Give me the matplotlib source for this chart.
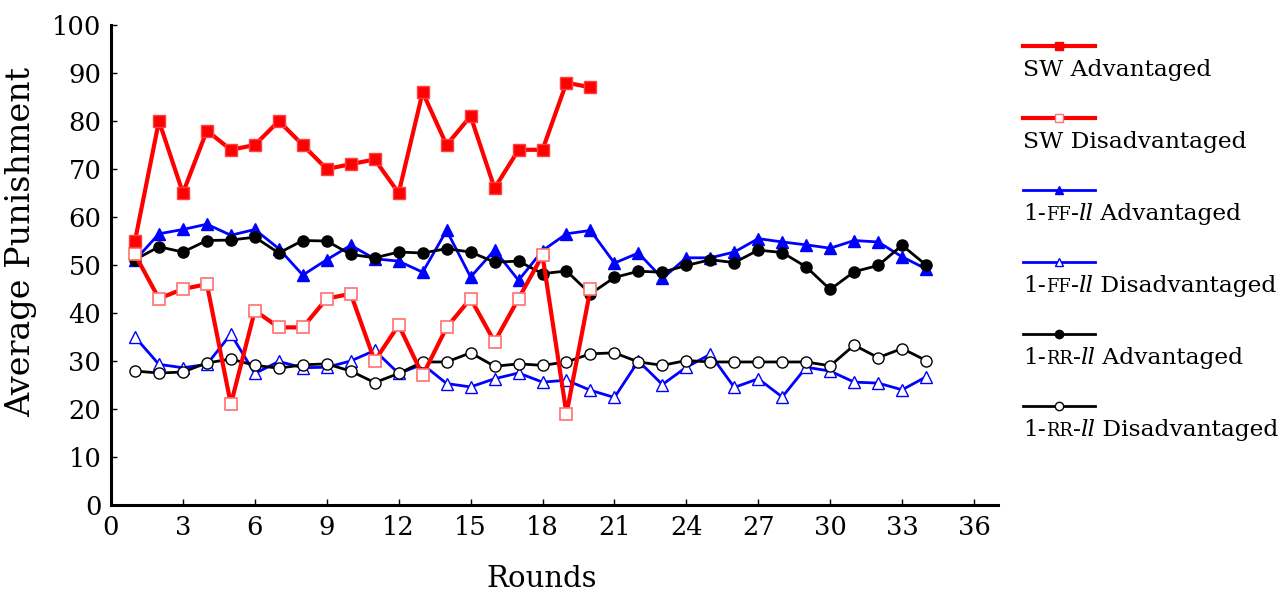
import numpy as np
import matplotlib
matplotlib.use('Agg')
import matplotlib.pyplot as plt
from matplotlib.lines import Line2D

SERIF = ['DejaVu Serif']

rounds_sw = list(range(1, 21))
rounds_ll = list(range(1, 35))

sw_adv = [55, 80, 65, 78, 74, 75, 80, 75, 70, 71, 72, 65, 86, 75, 81, 66, 74, 74, 88, 87]
sw_dis = [52.2, 43, 45, 46, 21, 40.5, 37, 37, 43, 44, 30, 37.5, 27, 37, 43, 34, 43, 52, 19, 45]
ff_adv = [51, 56.5, 57.4, 58.5, 56.2, 57.4, 53.4, 47.9, 51.1, 54.1, 51.3, 50.8, 48.5, 57.2,
          47.5, 53.1, 46.8, 53, 56.5, 57.2, 50.4, 52.5, 47.2, 51.5, 51.5, 52.7, 55.5, 54.8,
          54.2, 53.5, 55.1, 54.8, 51.7, 49.2]
ff_dis = [35, 29.3, 28.6, 29.3, 35.6, 27.4, 29.9, 28.6, 28.7, 30, 32.2, 27.4, 29.3, 25.3,
          24.6, 26.3, 27.5, 25.6, 26, 23.9, 22.4, 30, 25.1, 28.7, 31.4, 24.5, 26.3, 22.5,
          28.7, 27.9, 25.6, 25.4, 24, 26.7]
rr_adv = [51.1, 53.8, 52.7, 55.1, 55.2, 55.8, 52.5, 55.1, 55, 52.2, 51.5, 52.7, 52.5, 53.4,
          52.7, 50.6, 50.8, 48.2, 48.75, 44, 47.4, 48.7, 48.5, 49.9, 51.1, 50.5, 53.1, 52.6,
          49.6, 44.9, 48.6, 49.9, 54.1, 50]
rr_dis = [27.9, 27.5, 27.7, 29.6, 30.4, 29.1, 28.5, 29.2, 29.4, 27.9, 25.5, 27.4, 29.8, 29.8,
          31.7, 28.9, 29.4, 29.1, 29.8, 31.5, 31.7, 29.8, 29.1, 30.1, 29.8, 29.8, 29.8, 29.8,
          29.8, 29, 33.3, 30.7, 32.6, 30.1]

W, H = 1288, 593
fig = plt.figure(figsize=(W / 100, H / 100), dpi=100)
ax = fig.add_axes([111 / W, 1 - 505 / H, (998 - 111) / W, (505 - 25) / H])

# drawing order: SW on top
ax.plot(rounds_ll, ff_dis, color='blue', lw=2, marker='^', ms=8, mfc='white', mec='blue', mew=1)
ax.plot(rounds_ll, ff_adv, color='blue', lw=2, marker='^', ms=8.5, mfc='blue', mec='blue')
ax.plot(rounds_ll, rr_dis, color='black', lw=2, marker='o', ms=8, mfc='white', mec='black', mew=1)
ax.plot(rounds_ll, rr_adv, color='black', lw=2, marker='o', ms=8, mfc='black', mec='black')
ax.plot(rounds_sw, sw_dis, color='red', lw=3, marker='s', ms=8, mfc='white', mec='#ff7070', mew=1.2)
ax.plot(rounds_sw, sw_adv, color='red', lw=3, marker='s', ms=8, mfc='red', mec='#ff4040', mew=1)

ax.set_xlim(0, 37)
ax.set_ylim(0, 100)
ax.set_xticks(range(0, 37, 3))
ax.set_yticks(range(0, 101, 10))
for s in ['top', 'right']:
    ax.spines[s].set_visible(False)
for s in ['left', 'bottom']:
    ax.spines[s].set_linewidth(2.2)
ax.tick_params(direction='in', length=4, width=1, labelsize=18.5, pad=7)
for lab in ax.get_xticklabels() + ax.get_yticklabels():
    lab.set_family(SERIF)
ax.set_xlabel('Rounds', family=SERIF, fontsize=21)
ax.set_ylabel('Average Punishment', family=SERIF, fontsize=24)
ax.xaxis.set_label_coords(0.486, -0.124)
ax.yaxis.set_label_coords(-0.083, 0.548)

# legend drawn by hand: line above, rich text below
def fx(px):
    return px / W

def fy(py):
    return 1 - py / H

fig.canvas.draw()
renderer = fig.canvas.get_renderer()

def rich_text(x, y, pieces):
    for s, size, style in pieces:
        t = fig.text(fx(x), fy(y), s, fontsize=size, style=style, family=SERIF, va='baseline')
        x += t.get_window_extent(renderer).width

leg = [
    ('red', 3, 's', 'red', 'SW'),
    ('red', 3, 's', 'white', 'SW'),
    ('blue', 2, '^', 'blue', 'FF'),
    ('blue', 2, '^', 'white', 'FF'),
    ('black', 2, 'o', 'black', 'RR'),
    ('black', 2, 'o', 'white', 'RR'),
]
big, small = 16.8, 12.8
for i, (col, lw, mk, face, tag) in enumerate(leg):
    ly = 46 + i * 72
    fig.add_artist(Line2D([fx(1023), fx(1095)], [fy(ly), fy(ly)], color=col, lw=lw,
                          transform=fig.transFigure))
    edge = '#ff7070' if col == 'red' and face == 'white' else col
    fig.add_artist(Line2D([fx(1059)], [fy(ly)], marker=mk, ms=6, mfc=face, mec=edge,
                          mew=1, transform=fig.transFigure))
    state = ' Advantaged' if i % 2 == 0 else ' Disadvantaged'
    base = ly + 30
    if tag == 'SW':
        rich_text(1023, base, [('SW' + state, big, 'normal')])
    else:
        rich_text(1023, base, [('1-', big, 'normal'), (tag, small, 'normal'),
                               ('-', big, 'normal'), ('ll', big, 'italic'),
                               (state, big, 'normal')])

fig.savefig('out.png', dpi=100)
